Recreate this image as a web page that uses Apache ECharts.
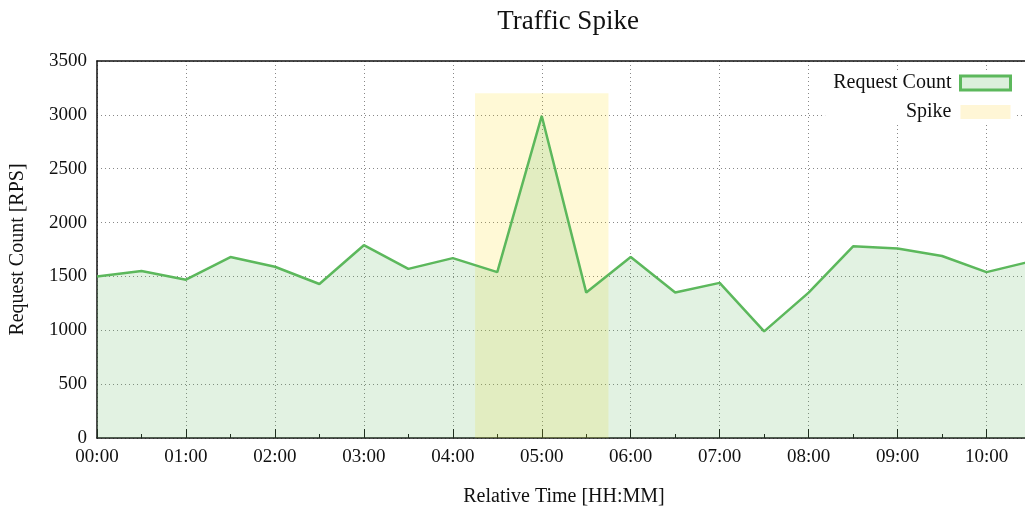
<!DOCTYPE html>
<html>
<head>
<meta charset="utf-8">
<script src="https://cdn.jsdelivr.net/npm/echarts@6/dist/echarts.min.js"></script>
<style>
html,body{margin:0;padding:0;overflow:hidden;background:#fff;}
#c{width:1040px;height:509px;}
</style>
</head>
<body>
<div id="c"></div>
<script>
// time in hours since start
const times = [0,0.5,1,1.5,2,2.5,3,3.5,4,4.5,5,5.5,6,6.5,7,7.5,8,8.5,9,9.5,10,10.5];
const requests = [1500,1550,1470,1680,1590,1430,1790,1570,1670,1540,2990,1350,1680,1350,1440,990,1350,1780,1760,1690,1540,1640];
const spikeStart = 4.25, spikeEnd = 5.75, spikeTop = 3200;
const xTicks = ['00:00','01:00','02:00','03:00','04:00','05:00','06:00','07:00','08:00','09:00','10:00'];

const FONT = 'Liberation Serif';
const chart = echarts.init(document.getElementById('c'));
chart.setOption({
  animation:false,
  textStyle:{fontFamily:FONT},
  title:{text:'Traffic Spike',left:563,top:3,textAlign:'center',
    textStyle:{fontFamily:FONT,fontWeight:'normal',fontSize:27,color:'#111'}},
  grid:{left:97,top:61,right:9,bottom:71,show:false,containLabel:false,outerBoundsMode:'none'},
  legend:{
    orient:'vertical',right:26,top:71,align:'right',
    itemWidth:50,itemHeight:14,itemGap:9,icon:'rect',
    backgroundColor:'#fff',padding:[2,2,2,8],
    textStyle:{fontFamily:FONT,fontSize:20,color:'#111',padding:[0,4,0,0]},
    data:[
      {name:'Request Count',itemStyle:{color:'#dcefdc',borderColor:'#5cb85c',borderWidth:3}},
      {name:'Spike',itemStyle:{color:'#fff6d6',borderWidth:0}}
    ]
  },
  xAxis:[{
    type:'value',min:0,max:10.5,interval:1,
    name:'Relative Time [HH:MM]',nameLocation:'middle',nameGap:49,
    nameTextStyle:{fontFamily:FONT,fontSize:20,color:'#111'},
    axisLine:{lineStyle:{color:'#111',width:1.5}},
    axisTick:{inside:true,length:9,lineStyle:{color:'#111'}},
    minorTick:{show:true,splitNumber:2,length:4,lineStyle:{color:'#111'}},
    axisLabel:{margin:10,fontFamily:FONT,fontSize:19,color:'#111',
      formatter:v=> (Number.isInteger(v) && v<xTicks.length) ? xTicks[v] : ''},
    splitLine:{show:true,lineStyle:{color:'#888',type:[1,3],width:1}}
  },{
    type:'value',position:'top',min:0,max:10.5,
    axisLine:{show:true,lineStyle:{color:'#111',width:1.5}},
    axisTick:{show:false},axisLabel:{show:false},splitLine:{show:false}
  }],
  yAxis:{
    type:'value',min:0,max:3500,interval:500,
    name:'Request Count [RPS]',nameLocation:'middle',nameGap:69,
    nameTextStyle:{fontFamily:FONT,fontSize:20,color:'#111'},
    axisLine:{show:true,lineStyle:{color:'#111',width:1.5}},
    axisTick:{show:false},
    axisLabel:{margin:10,fontFamily:FONT,fontSize:19,color:'#111',formatter:v=>String(v)},
    splitLine:{show:true,lineStyle:{color:'#888',type:[1,3],width:1}}
  },
  series:[
    {
      name:'Spike',type:'line',data:[],z:1,
      itemStyle:{color:'#fff6d6'},
      markArea:{silent:true,itemStyle:{color:'rgba(255,215,0,0.16)'},
        data:[[{xAxis:spikeStart,yAxis:0},{xAxis:spikeEnd,yAxis:spikeTop}]]}
    },
    {
      name:'Request Count',type:'line',z:3,
      data:times.map((t,i)=>[t,requests[i]]),
      symbol:'none',clip:true,
      lineStyle:{color:'#5cb85c',width:2.5},
      itemStyle:{color:'#5cb85c'},
      areaStyle:{color:'rgba(92,184,92,0.26)'}
    }
  ]
});
</script>
</body>
</html>
